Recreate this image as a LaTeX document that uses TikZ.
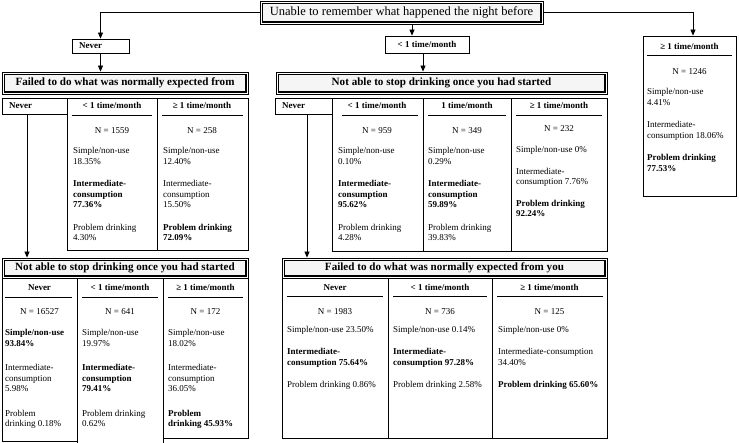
\documentclass[tikz,border=0pt]{standalone}
\usepackage{fontspec}
\setmainfont{Liberation Serif}
\usetikzlibrary{arrows.meta,fit,calc}
\newcommand\ttlbox[6]{%
  \node[cell, fit={(#2,#3) (#4,#5)}] (#1) {};
  \draw[ln, fill=gray!8] (#2+2.2,#3+2.2) rectangle (#4-2.2,#5-2.2);
  \draw[line width=1.6pt] (#2+2.2,#5-2.2) -- (#4-2.2,#5-2.2) -- (#4-2.2,#3+2.2);
  \node[ttl] (#1t) at (#1.center) {#6};}
\begin{document}
\begin{tikzpicture}[x=1pt,y=-1pt,
  every node/.style={inner sep=0pt},
  ln/.style={line width=0.8pt},
  cell/.style={draw, line width=0.8pt, inner sep=0pt},
  arr/.style={line width=0.8pt, -{Triangle[width=5pt,length=6pt]}},
  ttl/.style={font=\bfseries\fontsize{11.1}{13}\selectfont},
  hdr/.style={font=\bfseries\fontsize{9}{11}\selectfont, anchor=base},
  nn/.style={font=\fontsize{9}{11}\selectfont, anchor=base},
  body/.style={font=\fontsize{9}{10.5}\selectfont, anchor=north west, align=left},
]
\useasboundingbox (0,0) rectangle (739,443);

% ---------- top level ----------
\ttlbox{tTop}{260}{1}{543}{24}{\mdseries\fontsize{12.5}{14}\selectfont Unable to remember what happened the night before}

\node[cell, fit={(72,39) (129,53)}] (nv1) {};
\node[hdr, anchor=west] (nv1t) at (79,46) {Never};

\node[cell, fit={(385,36) (469,53)}] (lt1) {};
\node[hdr, anchor=center] (lt1t) at (lt1.center) {< 1 time/month};

% ---------- right box ----------
\node[cell, fit={(643,36) (736,196)}] (gR) {};
\node[hdr] (gRh) at (689.5,50) {≥ 1 time/month};
\draw[ln] (647,55) -- (732,55);
\node[nn] (gRn) at (689.5,75) {N = 1246};
\node[body] (gRb) at (647,88.5) {Simple/non-use\\4.41\%\\[12pt]Intermediate-\\consumption 18.06\%\\[12pt]\textbf{Problem drinking}\\\textbf{77.53\%}};

% ---------- left branch ----------
\ttlbox{tL}{2}{72}{248}{94}{Failed to do what was normally expected from}
\node[cell, fit={(2,98) (67,114)}] (gLn) {};
\node[hdr, anchor=west] (gLnt) at (9,106) {Never};
\node[cell, fit={(67,98) (157,250)}] (gL1) {};
\node[cell, fit={(157,98) (248,250)}] (gL2) {};
\node[hdr] (gL1h) at (112,109) {< 1 time/month};
\node[hdr] (gL2h) at (202,109) {≥ 1 time/month};
\draw[ln] (72,115) -- (152,115);
\draw[ln] (162,115) -- (243,115);
\node[nn] (gL1n) at (112,134) {N = 1559};
\node[nn] (gL2n) at (202,134) {N = 258};
\node[body] (gL1b) at (73,147.5) {Simple/non-use\\18.35\%\\[12pt]\textbf{Intermediate-}\\\textbf{consumption}\\\textbf{77.36\%}\\[12pt]Problem drinking\\4.30\%};
\node[body] (gL2b) at (163,147.5) {Simple/non-use\\12.40\%\\[12pt]Intermediate-\\consumption\\15.50\%\\[12pt]\textbf{Problem drinking}\\\textbf{72.09\%}};

% ---------- middle branch ----------
\ttlbox{tM}{276}{72}{607}{94}{Not able to stop drinking once you had started}
\node[cell, fit={(275,98) (332,114)}] (gMn) {};
\node[hdr, anchor=west] (gMnt) at (282,106) {Never};
\node[cell, fit={(332,98) (423,251)}] (gM1) {};
\node[cell, fit={(423,98) (511,251)}] (gM2) {};
\node[cell, fit={(511,98) (607,251)}] (gM3) {};
\node[hdr] (gM1h) at (377,109) {< 1 time/month};
\node[hdr] (gM2h) at (467,109) {1 time/month};
\node[hdr] (gM3h) at (559,109) {≥ 1 time/month};
\draw[ln] (342,115) -- (418,115);
\draw[ln] (428,115) -- (506,115);
\draw[ln] (516,115) -- (602,115);
\node[nn] (gM1n) at (377,134) {N = 959};
\node[nn] (gM2n) at (467,134) {N = 349};
\node[nn] (gM3n) at (559,132) {N = 232};
\node[body] (gM1b) at (338,147.5) {Simple/non-use\\0.10\%\\[12pt]\textbf{Intermediate-}\\\textbf{consumption}\\\textbf{95.62\%}\\[12pt]Problem drinking\\4.28\%};
\node[body] (gM2b) at (428,147.5) {Simple/non-use\\0.29\%\\[12pt]\textbf{Intermediate-}\\\textbf{consumption}\\\textbf{59.89\%}\\[12pt]Problem drinking\\39.83\%};
\node[body] (gM3b) at (516,146.5) {Simple/non-use 0\%\\[11pt]Intermediate-\\consumption 7.76\%\\[11pt]\textbf{Problem drinking}\\\textbf{92.24\%}};

% ---------- lower left ----------
\ttlbox{tLL}{2}{258}{248}{278}{Not able to stop drinking once you had started}
\node[cell, fit={(2,278) (77,441)}] (gLL1) {};
\node[cell, fit={(77,278) (163,443)}] (gLL2) {};
\node[cell, fit={(163,278) (248,438)}] (gLL3) {};
\node[hdr] (gLL1h) at (39.5,291) {Never};
\node[hdr] (gLL2h) at (120,291) {< 1 time/month};
\node[hdr] (gLL3h) at (205.5,291) {≥ 1 time/month};
\draw[ln] (5,297) -- (72,297);
\draw[ln] (82,297) -- (158,297);
\draw[ln] (168,297) -- (243,297);
\node[nn] (gLL1n) at (39.5,315) {N = 16527};
\node[nn] (gLL2n) at (120,315) {N = 641};
\node[nn] (gLL3n) at (205.5,315) {N = 172};
\node[body] (gLL1b) at (5,329.5) {\textbf{Simple/non-use}\\\textbf{93.84\%}\\[14pt]Intermediate-\\consumption\\5.98\%\\[14pt]Problem\\drinking 0.18\%};
\node[body] (gLL2b) at (82,329.5) {Simple/non-use\\19.97\%\\[14pt]\textbf{Intermediate-}\\\textbf{consumption}\\\textbf{79.41\%}\\[14pt]Problem drinking\\0.62\%};
\node[body] (gLL3b) at (168,329.5) {Simple/non-use\\18.02\%\\[14pt]Intermediate-\\consumption\\36.05\%\\[14pt]\textbf{Problem}\\\textbf{drinking 45.93\%}};

% ---------- lower middle ----------
\ttlbox{tLM}{282}{258}{607}{278}{Failed to do what was normally expected from you}
\node[cell, fit={(282,278) (388,438)}] (gLM1) {};
\node[cell, fit={(388,278) (492,438)}] (gLM2) {};
\node[cell, fit={(492,278) (607,438)}] (gLM3) {};
\node[hdr] (gLM1h) at (335,291) {Never};
\node[hdr] (gLM2h) at (440,291) {< 1 time/month};
\node[hdr] (gLM3h) at (549.5,291) {≥ 1 time/month};
\draw[ln] (287,296) -- (383,296);
\draw[ln] (393,296) -- (487,296);
\draw[ln] (497,296) -- (603,296);
\node[nn] (gLM1n) at (335,315) {N = 1983};
\node[nn] (gLM2n) at (440,315) {N = 736};
\node[nn] (gLM3n) at (549.5,315) {N = 125};
\node[body] (gLM1b) at (287,326.5) {Simple/non-use 23.50\%\\[11.5pt]\textbf{Intermediate-}\\\textbf{consumption 75.64\%}\\[11.5pt]Problem drinking 0.86\%};
\node[body] (gLM2b) at (393,326.5) {Simple/non-use 0.14\%\\[11.5pt]\textbf{Intermediate-}\\\textbf{consumption 97.28\%}\\[11.5pt]Problem drinking 2.58\%};
\node[body] (gLM3b) at (498,326.5) {Simple/non-use 0\%\\[11.5pt]Intermediate-consumption\\34.40\%\\[11.5pt]\textbf{Problem drinking 65.60\%}};

% ---------- connectors ----------
\draw[arr] (tTop.west) -| (nv1.north);
\draw[arr] (tTop.east) -| ([xshift=3.5pt]gR.north);
\draw[arr] ([xshift=10.5pt]tTop.south) -- ([xshift=10.5pt]tTop.south |- lt1.north);
\draw[arr] (nv1.south) -- (nv1.south |- tL.north);
\draw[arr] ([xshift=-4pt]lt1.south) -- ([xshift=-4pt]lt1.south |- tM.north);
\draw[arr] ([xshift=-7.5pt]gLn.south) -- ([xshift=-7.5pt]gLn.south |- tLL.north);
\draw[arr] ([xshift=3.5pt]gMn.south) -- ([xshift=3.5pt]gMn.south |- tLM.north);
\end{tikzpicture}
\end{document}
